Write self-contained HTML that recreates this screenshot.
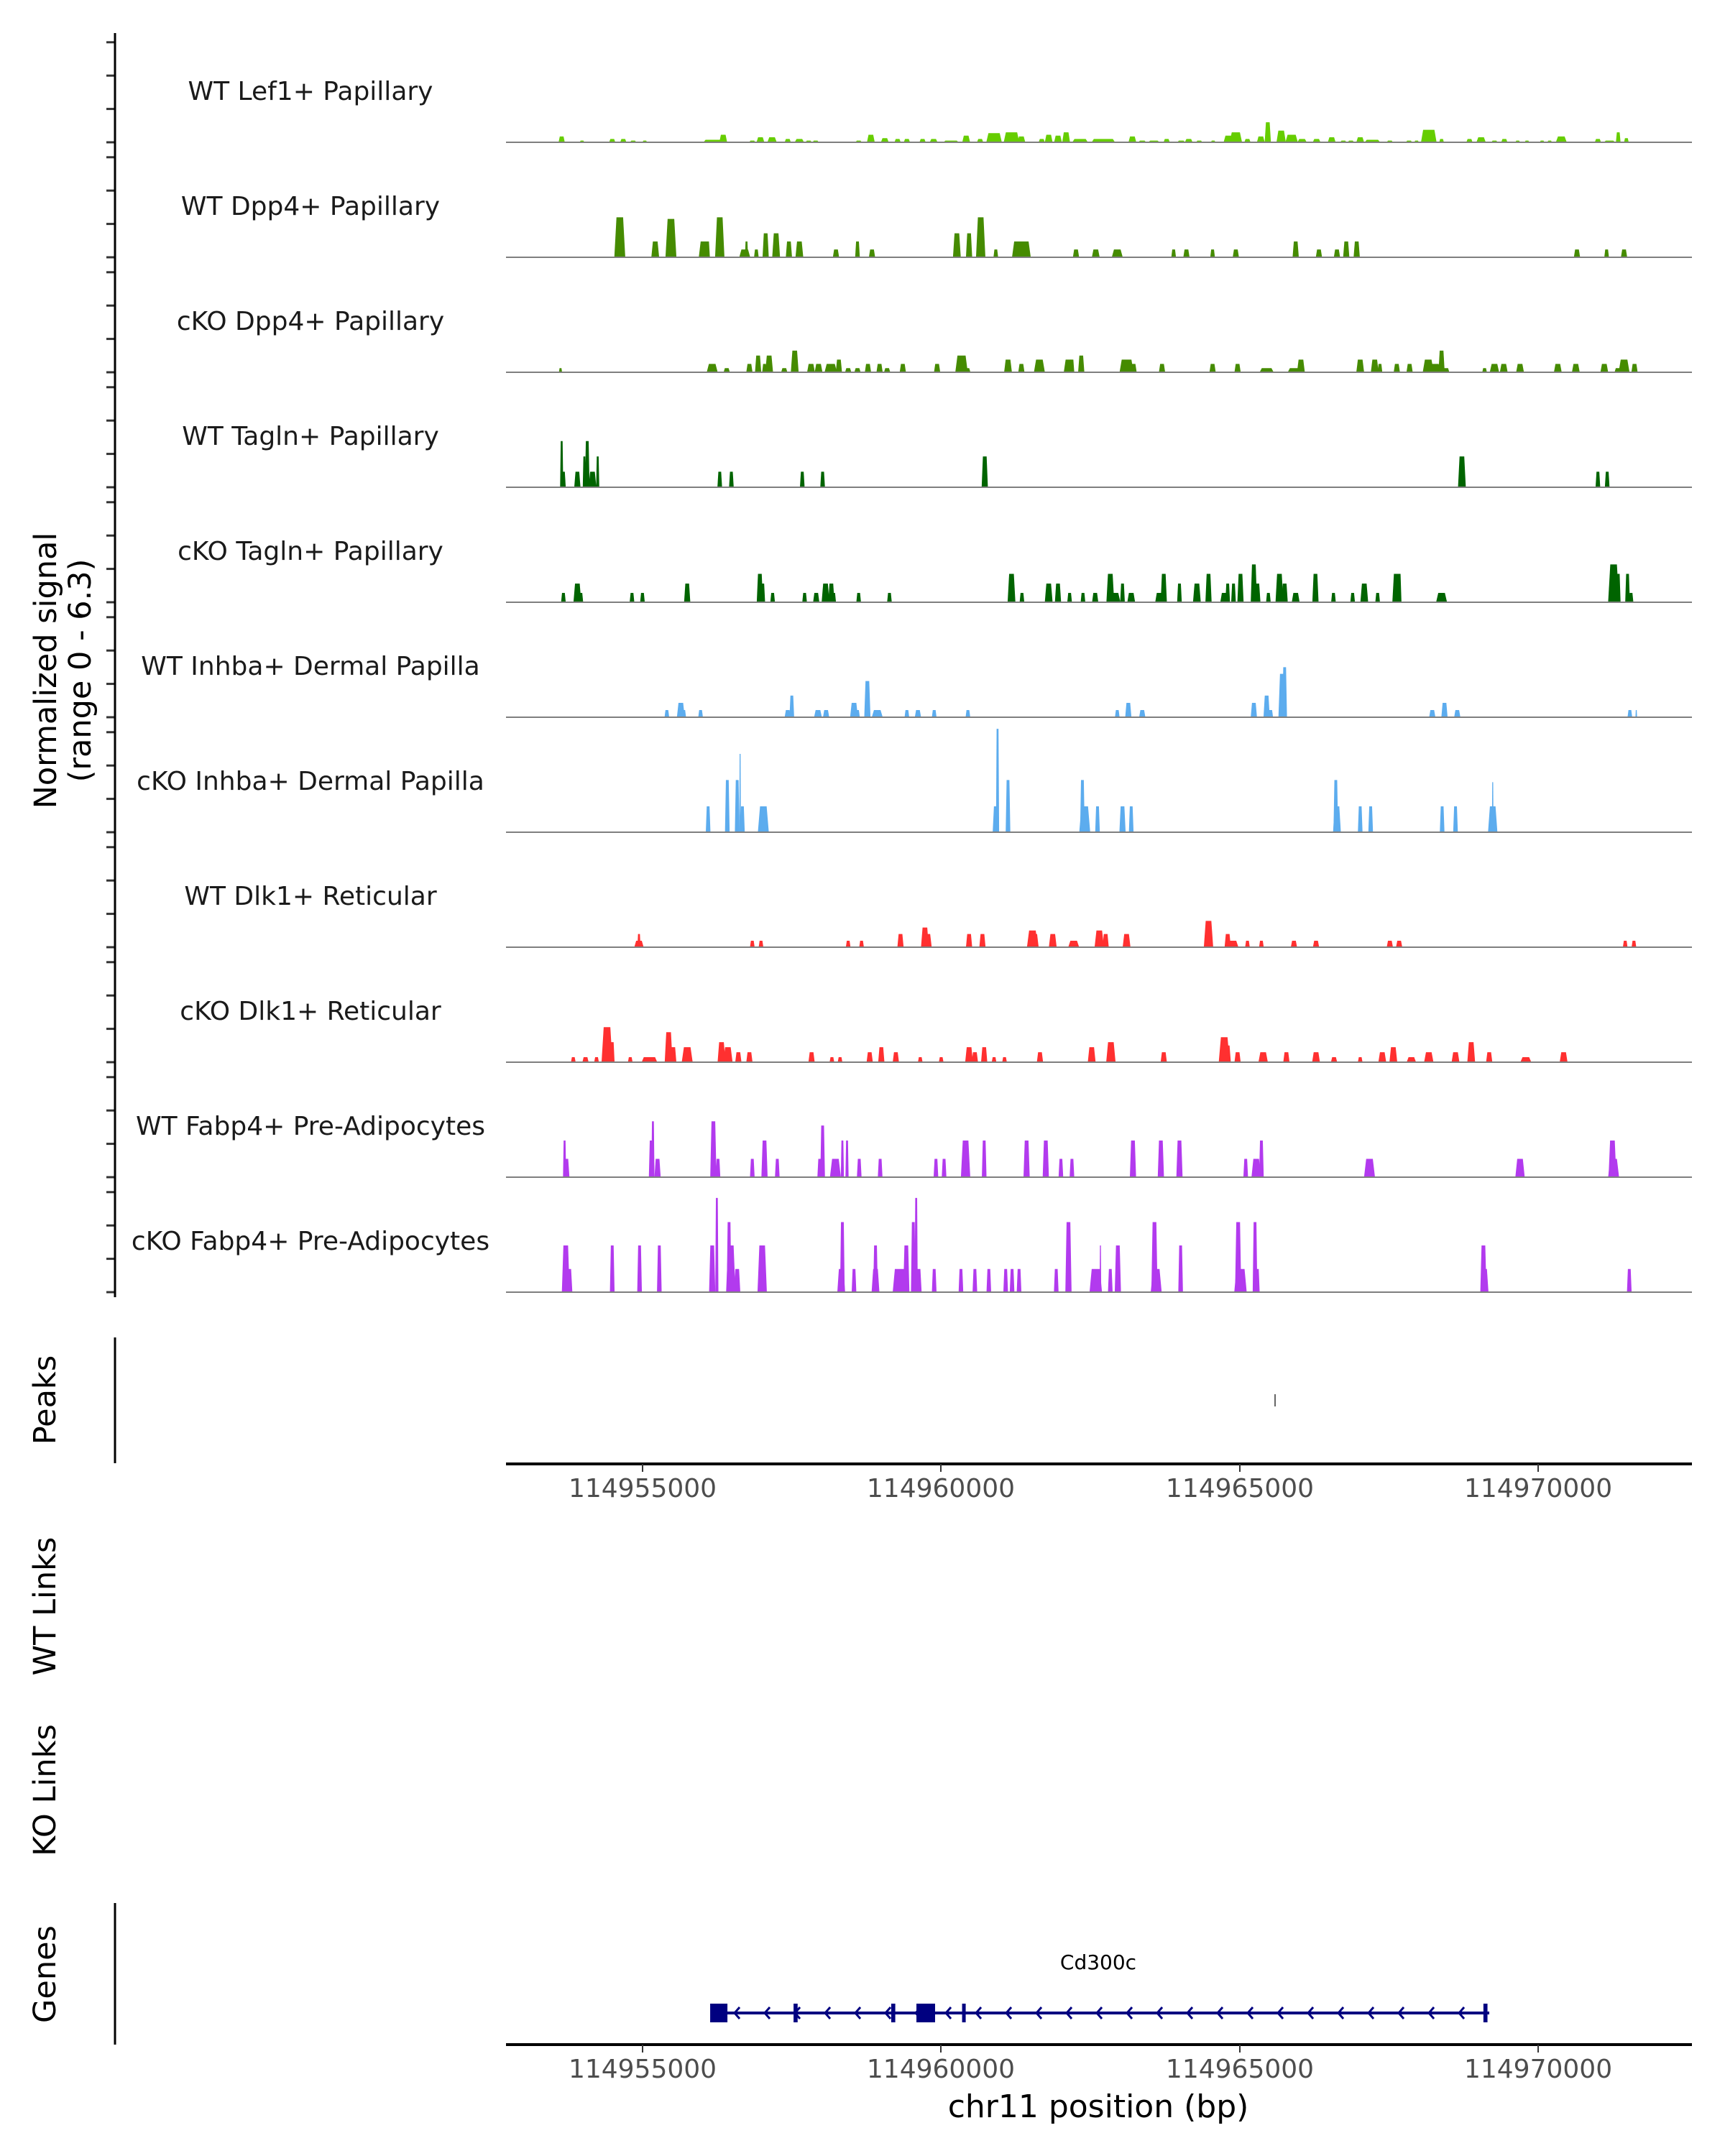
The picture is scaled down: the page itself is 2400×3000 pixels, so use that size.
<!DOCTYPE html>
<html><head><meta charset="utf-8"><style>
html,body{margin:0;padding:0;background:#fff;}
svg{display:block;font-family:"DejaVu Sans","Liberation Sans",sans-serif;}
</style></head><body>
<svg id="chart" width="2400" height="3000" viewBox="0 0 2400 3000" xmlns="http://www.w3.org/2000/svg">
<rect x="0" y="0" width="2400" height="3000" fill="#fff"/>
<g id="tracks"></g>
<g id="axes"></g>
</svg>
<script>
// ---- data (positions in kb offset from 114,900,000; [pos, height, width_bp]) ----
const trackNames = ["WT Lef1+ Papillary","WT Dpp4+ Papillary","cKO Dpp4+ Papillary","WT Tagln+ Papillary","cKO Tagln+ Papillary","WT Inhba+ Dermal Papilla","cKO Inhba+ Dermal Papilla","WT Dlk1+ Reticular","cKO Dlk1+ Reticular","WT Fabp4+ Pre-Adipocytes","cKO Fabp4+ Pre-Adipocytes"];
const trackColors = ["#66CD00","#458B00","#458B00","#006400","#006400","#5CACEE","#5CACEE","#FF3030","#FF3030","#B23AEE","#B23AEE"];
const wtLef1 = [[53.67,.35,107],[54.02,.1,80],[54.54,.2,107],[54.73,.2,107],[54.90,.1,107],[55.10,.1,80],[56.31,.15,402],[56.45,.45,134],[56.95,.1,107],[57.09,.3,134],[57.29,.3,161],[57.56,.2,107],[57.76,.2,161],[57.92,.1,107],[58.04,.1,107],[58.78,.1,107],[58.99,.45,134],[59.23,.25,134],[59.45,.2,107],[59.61,.2,107],[59.88,.2,107],[60.07,.2,134],[60.37,.1,268],[60.63,.4,134],[60.87,.2,107],[61.11,.55,268],[61.41,.6,268],[61.58,.35,134],[61.93,.2,107],[62.05,.45,134],[62.21,.4,134],[62.35,.6,134],[62.59,.2,268],[62.99,.2,402],[63.49,.35,134],[63.66,.1,134],[63.86,.1,200],[64.08,.2,107],[64.33,.1,134],[64.46,.2,134],[64.64,.1,107],[64.88,.1,80],[65.14,.4,161],[65.27,.6,214],[65.47,.2,107],[65.70,.35,134],[65.82,1.2,107],[66.05,.7,161],[66.23,.45,214],[66.41,.2,161],[66.66,.2,134],[66.92,.3,134],[67.12,.1,107],[67.25,.1,107],[67.41,.3,134],[67.62,.15,268],[67.92,.1,107],[68.25,.1,107],[68.38,.1,80],[68.59,.75,268],[68.81,.2,80],[69.29,.2,107],[69.49,.3,161],[69.72,.1,107],[69.89,.2,107],[70.12,.1,80],[70.28,.1,80],[70.54,.1,80],[70.67,.1,80],[70.87,.35,188],[71.50,.2,107],[71.70,.1,200],[71.85,.6,80],[71.99,.25,80]];
const wtDpp4 = [[54.67,2.4,188],[55.28,.95,134],[55.55,2.3,188],[56.11,.95,161],[56.18,.95,80],[56.39,2.4,161],[56.82,.47,188],[56.85,.95,54],[57.02,.47,80],[57.18,1.44,107],[57.36,1.44,134],[57.58,.95,107],[57.76,.95,134],[58.39,.47,107],[58.76,.95,80],[59.01,.47,107],[60.47,1.44,134],[60.68,1.44,107],[60.88,2.4,161],[61.14,.47,80],[61.58,.95,322],[62.52,.47,107],[62.86,.47,134],[63.23,.47,188],[64.20,.47,80],[64.42,.47,107],[64.87,.47,80],[65.27,.47,107],[66.30,.95,107],[66.70,.47,107],[67.01,.47,107],[67.17,.95,107],[67.35,.95,107],[71.14,.47,107],[71.65,.47,80],[71.95,.47,107]];
const koDpp4 = [[53.65,.25,54],[56.26,.5,188],[56.51,.25,107],[56.90,.5,107],[57.05,1.0,107],[57.16,.5,80],[57.24,1.0,134],[57.50,.25,107],[57.68,1.3,134],[57.96,.5,134],[58.09,.5,134],[58.30,.5,214],[58.44,.76,107],[58.60,.25,107],[58.76,.25,107],[58.94,.5,107],[59.14,.5,107],[59.27,.25,107],[59.54,.5,107],[60.13,.5,107],[60.55,1.0,214],[60.65,.25,107],[61.35,.76,134],[61.58,.5,107],[61.89,.76,188],[62.39,.76,161],[62.45,.76,80],[62.61,1.0,107],[63.39,.76,241],[63.51,.5,107],[64.00,.5,107],[64.87,.5,107],[65.30,.5,107],[65.80,.25,241],[66.27,.25,214],[66.39,.76,134],[67.41,.76,134],[67.66,.76,134],[67.75,.5,80],[68.04,.5,107],[68.26,.5,107],[68.58,.76,188],[68.69,.5,214],[68.81,1.3,107],[68.89,.25,107],[69.55,.25,80],[69.72,.5,161],[69.88,.5,134],[70.16,.5,134],[70.81,.5,134],[71.12,.5,134],[71.61,.5,134],[71.84,.25,107],[71.95,.76,188],[72.13,.5,107]];
const wtTagln = [[53.67,2.77,54],[53.70,.93,80],[53.94,.93,107],[54.06,1.85,54],[54.11,2.77,80],[54.20,.93,134],[54.29,1.85,54],[56.39,.93,80],[56.59,.93,80],[57.81,.93,80],[58.16,.93,80],[60.95,1.85,107],[69.16,1.85,134],[71.50,.93,80],[71.66,.93,80]];
const koTagln = [[53.70,.56,80],[53.94,1.12,134],[54.00,.56,80],[54.88,.56,80],[55.06,.56,80],[55.83,1.12,107],[57.08,1.7,107],[57.13,1.12,80],[57.30,.56,80],[57.85,.56,80],[58.05,.56,107],[58.21,1.12,134],[58.31,1.12,107],[58.35,.56,80],[58.78,.56,80],[59.31,.56,80],[61.41,1.7,134],[61.59,.56,80],[62.05,1.12,134],[62.21,1.12,107],[62.41,.56,80],[62.64,.56,80],[62.85,.56,107],[63.11,1.7,134],[63.19,.56,188],[63.32,1.12,80],[63.47,.56,134],[63.95,.56,134],[64.03,1.7,107],[64.30,1.12,80],[64.60,1.12,134],[64.80,1.7,107],[65.07,.56,134],[65.13,1.12,80],[65.23,1.12,80],[65.35,1.7,107],[65.58,2.27,107],[65.64,1.12,107],[65.83,.56,80],[66.02,1.7,134],[66.11,1.12,107],[66.30,.56,134],[66.64,1.7,107],[66.95,.56,80],[67.28,.56,80],[67.48,1.12,134],[67.71,.56,80],[68.03,1.7,134],[68.08,1.7,80],[68.81,.56,188],[71.77,2.27,188],[71.85,1.7,80],[72.01,1.7,80],[72.07,.56,80]];
const wtInhba = [[55.48,.43,80],[55.72,.86,134],[55.77,.43,80],[56.06,.43,80],[57.56,.43,107],[57.63,1.3,80],[58.08,.43,134],[58.22,.43,107],[58.70,.86,134],[58.76,.43,80],[58.93,2.17,107],[59.10,.43,188],[59.61,.43,80],[59.80,.43,107],[60.08,.43,80],[60.66,.43,80],[63.23,.43,80],[63.42,.86,107],[63.66,.43,107],[65.58,.86,107],[65.80,1.3,107],[65.87,.43,80],[66.07,2.6,134],[66.11,3.0,80],[68.65,.43,107],[68.86,.86,107],[69.08,.43,107],[72.05,.43,80],[72.16,.43,27]];
const koInhba = [[56.19,1.55,80],[56.52,3.13,80],[56.69,3.13,80],[56.74,4.7,27],[56.78,1.55,80],[57.14,1.55,188],[61.14,1.55,107],[61.17,6.2,54],[61.35,3.13,80],[62.63,3.13,80],[62.67,1.55,188],[62.89,1.55,80],[63.32,1.55,107],[63.47,1.55,80],[66.99,3.13,80],[67.01,1.55,134],[67.41,1.55,80],[67.59,1.55,80],[68.82,1.55,80],[69.05,1.55,80],[69.69,1.55,161],[69.69,3.0,27]];
const wtDlk1 = [[55.00,.39,161],[55.00,.79,54],[56.95,.39,80],[57.10,.39,80],[58.60,.39,80],[58.83,.39,80],[59.50,.79,107],[59.92,1.18,134],[59.97,.79,134],[60.68,.79,107],[60.91,.79,107],[61.77,1.0,188],[61.81,.79,134],[62.12,.79,134],[62.48,.39,188],[62.92,1.0,161],[63.03,.79,107],[63.39,.79,134],[64.80,1.58,161],[65.13,.79,107],[65.22,.39,188],[65.47,.39,80],[65.71,.39,80],[66.27,.39,107],[66.65,.39,107],[67.92,.39,107],[68.08,.39,107],[71.97,.39,80],[72.12,.39,80]];
const koDlk1 = [[53.87,.3,80],[54.08,.3,107],[54.27,.3,80],[54.45,2.1,188],[54.54,1.2,80],[54.85,.3,80],[55.18,.3,268],[55.51,1.8,134],[55.59,.9,107],[55.83,.9,188],[56.42,1.2,134],[56.53,.9,161],[56.71,.6,107],[56.90,.6,107],[57.97,.6,107],[58.32,.3,80],[58.46,.3,80],[58.97,.6,107],[59.17,.9,107],[59.42,.6,107],[59.84,.3,80],[60.20,.3,80],[60.68,.9,134],[60.78,.6,107],[60.94,.9,107],[61.11,.3,80],[61.29,.3,80],[61.90,.6,107],[62.79,.9,134],[63.12,1.2,161],[64.03,.6,107],[65.07,1.5,188],[65.13,1.0,107],[65.30,.6,107],[65.74,.6,161],[66.14,.6,107],[66.65,.6,134],[66.96,.3,107],[67.41,.3,80],[67.79,.6,134],[67.98,.9,134],[68.29,.3,161],[68.59,.6,161],[69.05,.6,134],[69.32,1.2,134],[69.63,.6,107],[70.26,.3,188],[70.91,.6,134]];
const wtFabp4 = [[53.72,2.2,54],[53.75,1.1,107],[55.21,2.2,80],[55.24,3.35,54],[55.32,1.1,107],[56.28,3.35,107],[56.36,1.1,80],[56.95,1.1,80],[57.16,2.2,107],[57.38,1.1,80],[58.11,1.1,80],[58.16,3.1,80],[58.38,1.1,188],[58.50,2.2,54],[58.58,2.2,54],[58.79,1.1,80],[59.15,1.1,80],[60.11,1.1,80],[60.25,1.1,80],[60.62,2.2,161],[60.94,2.2,80],[61.67,2.2,107],[62.00,2.2,107],[62.26,1.1,80],[62.45,1.1,80],[63.50,2.2,107],[63.98,2.2,107],[64.30,2.2,107],[65.44,1.1,80],[65.62,1.1,161],[65.71,2.2,80],[67.57,1.1,188],[70.16,1.1,161],[71.75,2.2,134],[71.77,1.1,188]];
const koFabp4 = [[53.74,2.8,134],[53.80,1.39,107],[54.54,2.8,80],[55.01,2.8,80],[55.35,2.8,80],[56.26,2.8,107],[56.34,5.65,54],[56.55,4.2,80],[56.58,2.8,161],[56.69,1.39,107],[57.12,2.8,161],[58.48,1.39,134],[58.50,4.2,80],[58.70,1.39,80],[59.07,2.8,80],[59.07,1.39,134],[59.50,1.39,268],[59.60,2.8,107],[59.72,4.2,80],[59.77,5.65,54],[59.81,1.39,107],[60.08,1.39,80],[60.54,1.39,80],[60.78,1.39,80],[61.02,1.39,80],[61.31,1.39,80],[61.42,1.39,80],[61.54,1.39,80],[62.18,1.39,80],[62.39,4.2,107],[62.86,1.39,214],[62.94,2.8,27],[63.11,1.39,80],[63.24,2.8,107],[63.87,4.2,107],[63.90,1.39,188],[64.32,2.8,80],[65.31,4.2,107],[65.35,1.39,214],[65.60,4.2,80],[65.64,1.39,80],[69.53,2.8,107],[69.55,1.39,134],[72.04,1.39,80]];
const trackData = [wtLef1, wtDpp4, koDpp4, wtTagln, koTagln, wtInhba, koInhba, wtDlk1, koDlk1, wtFabp4, koFabp4];
const yTicks = [0, 2, 4, 6];
const xTickPos = [55.062, 60.194, 65.339, 70.472];
const xTickLabels = ["114955000", "114960000", "114965000", "114970000"];
const peakRegions = [[65.945, 0.01]];
const geneName = "Cd300c";
const geneSpan = [56.373, 69.631];
const geneExons = [[56.225, 56.522], [57.66, 57.73], [59.34, 59.41], [59.774, 60.095], [60.56, 60.62], [69.53, 69.60]];

// ---- scales ----
const X0 = 704, X1 = 2354, KB0 = 52.712, KB1 = 73.118;
function xs(kb){ return X0 + (kb - KB0) / (KB1 - KB0) * (X1 - X0); }
const PX_PER_UNIT = 23.2, TRACK_STEP = 160, BASE0 = 198;
function base(i){ return BASE0 + i * TRACK_STEP; }
function ys(i, v){ return base(i) - v * PX_PER_UNIT; }

const NS = "http://www.w3.org/2000/svg";
function mk(tag, attrs, parent){ const e = document.createElementNS(NS, tag); for (const k in attrs) e.setAttribute(k, attrs[k]); parent.appendChild(e); return e; }
const gT = document.getElementById('tracks');
const gA = document.getElementById('axes');

// ---- signal tracks ----
trackData.forEach((peaks, i) => {
  const g = mk('g', {}, gT);
  
  
  const lbl = mk('text', {x: 432, y: base(i) - 59, 'text-anchor': 'middle', 'font-size': 36, fill: '#1a1a1a'}, g);
  lbl.textContent = trackNames[i];
  
  
  peaks.forEach(p => {
    const w = p[2] / 1000 * (X1 - X0) / (KB1 - KB0);
    const cx = xs(p[0]);
    const yb = base(i), yt = ys(i, p[1]);
    const a = cx - w/2, b = cx + w/2, inset = Math.min(w*0.2, 3);
    const poly = mk('polygon', {points: `${a},${yb} ${a+inset},${yt} ${b-inset},${yt} ${b},${yb}`, fill: trackColors[i]}, g);
    
    
  });
  const bl = mk('line', {x1: X0, x2: X1, y1: base(i), y2: base(i), stroke: '#7f7f7f', 'stroke-width': 2}, g);
  
  
  yTicks.forEach(v => {
    const t = mk('line', {x1: 148, x2: 160, y1: ys(i, v), y2: ys(i, v), stroke: '#333', 'stroke-width': 3}, gA);
    
    
  });
});

// ---- axes ----
function vline(y1, y2, name){
  const l = mk('line', {x1: 160, x2: 160, y1: y1, y2: y2, stroke: '#000', 'stroke-width': 3}, gA);
  
  
}
vline(46, 1805, 'signal-y-axis');
vline(1861, 2036, 'peaks-y-axis');
vline(2648, 2845, 'genes-y-axis');

function rotLabel(text, x, y, name, size){
  const t = mk('text', {x: x, y: y, transform: `rotate(-90 ${x} ${y})`, 'text-anchor': 'middle', 'dominant-baseline': 'central', 'font-size': size || 43, fill: '#000'}, gA);
  t.textContent = text;
  
  
}
rotLabel('Normalized signal', 64, 933, 'y-axis-title');
rotLabel('(range 0 - 6.3)', 112, 933, 'y-axis-range');
rotLabel('Peaks', 63, 1948, 'peaks-label');
rotLabel('WT Links', 63, 2235, 'wt-links-label');
rotLabel('KO Links', 63, 2491, 'ko-links-label');
rotLabel('Genes', 63, 2747, 'genes-label');

function xAxis(y, name){
  const l = mk('line', {x1: X0, x2: X1, y1: y, y2: y, stroke: '#000', 'stroke-width': 4}, gA);
  
  
  xTickPos.forEach((kb, j) => {
    const tk = mk('line', {x1: xs(kb), x2: xs(kb), y1: y, y2: y + 11, stroke: '#333', 'stroke-width': 2}, gA);
    
    
    const tl = mk('text', {x: xs(kb), y: y + 46, 'text-anchor': 'middle', 'font-size': 36, fill: '#4d4d4d'}, gA);
    tl.textContent = xTickLabels[j];
    
    
  });
}
xAxis(2037, 'peaks-x-axis');
xAxis(2845, 'genes-x-axis');

// peaks
peakRegions.forEach(p => {
  const m = mk('rect', {x: xs(p[0]) - 1, y: 1940, width: 2, height: 17, fill: '#666'}, gA);
  
  
});

// gene
const gG = mk('g', {}, gA);


const GY = 2801, NAVY = '#000080';
mk('line', {x1: xs(geneSpan[0]), x2: xs(geneSpan[1]), y1: GY, y2: GY, stroke: NAVY, 'stroke-width': 4}, gG);
for (let x = xs(geneSpan[0]) + 22; x < xs(geneSpan[1]) - 10; x += 42) {
  mk('polyline', {points: `${x+7},${GY-8} ${x},${GY} ${x+7},${GY+8}`, fill: 'none', stroke: NAVY, 'stroke-width': 3}, gG);
}
geneExons.forEach(e => {
  const r = mk('rect', {x: xs(e[0]), y: GY - 13, width: Math.max(xs(e[1]) - xs(e[0]), 5), height: 26, fill: NAVY}, gG);
  
  
});
const gl = mk('text', {x: 1528, y: 2740, 'text-anchor': 'middle', 'font-size': 28, fill: '#000'}, gG);
gl.textContent = geneName;



const xt = mk('text', {x: 1528, y: 2946, 'text-anchor': 'middle', 'font-size': 44, fill: '#000'}, gA);
xt.textContent = 'chr11 position (bp)';


</script>
</body></html>
